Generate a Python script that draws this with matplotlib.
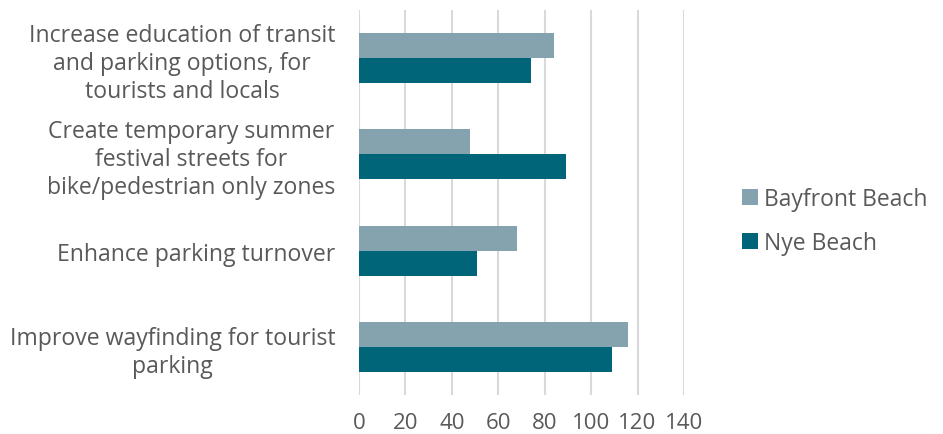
import matplotlib
matplotlib.use("Agg")
import matplotlib.pyplot as plt
import numpy as np

categories = [
    "Increase education of transit\nand parking options, for\ntourists and locals",
    "Create temporary summer\nfestival streets for\nbike/pedestrian only zones",
    "Enhance parking turnover",
    "Improve wayfinding for tourist\nparking",
]
bayfront = [84, 48, 68, 116]
nye = [74, 89, 51, 109]
series_names = ["Bayfront Beach", "Nye Beach"]
xticks = [0, 20, 40, 60, 80, 100, 120, 140]

c_bay = "#84A3AF"
c_nye = "#006579"
txt = "#595959"

plt.rcParams['font.family'] = ['Open Sans', 'DejaVu Sans']

fig = plt.figure(figsize=(9.43, 4.35), dpi=100)
ax = fig.add_axes([0.3807, 0.0897, 0.3446, 0.885])

y = np.arange(len(categories))
h = 0.26
ax.barh(y - h/2, bayfront, height=h, color=c_bay, label=series_names[0], zorder=3)
ax.barh(y + h/2, nye, height=h, color=c_nye, label=series_names[1], zorder=3)

ax.set_ylim(len(categories) - 0.5, -0.5)
ax.set_xlim(0, 140)
ax.set_xticks(xticks)
ax.set_yticks(y)
ax.set_yticklabels(categories, fontsize=16.6, color=txt, linespacing=1.22,
                   ha='right', multialignment='center')
ax.tick_params(axis='y', length=0, pad=17)
ax.tick_params(axis='x', length=0, labelsize=16, labelcolor=txt, pad=12)
ax.grid(axis='x', color='#D9D9D9', linewidth=1.5, zorder=0)
for s in ax.spines.values():
    s.set_visible(False)

ax.legend(loc='center left', bbox_to_anchor=(1.18, 0.452), frameon=False,
          fontsize=16.5, labelcolor=txt, handlelength=0.7, handleheight=0.7,
          handletextpad=0.25, labelspacing=0.85, borderaxespad=0, borderpad=0)

fig.savefig("out.png", dpi=100)
